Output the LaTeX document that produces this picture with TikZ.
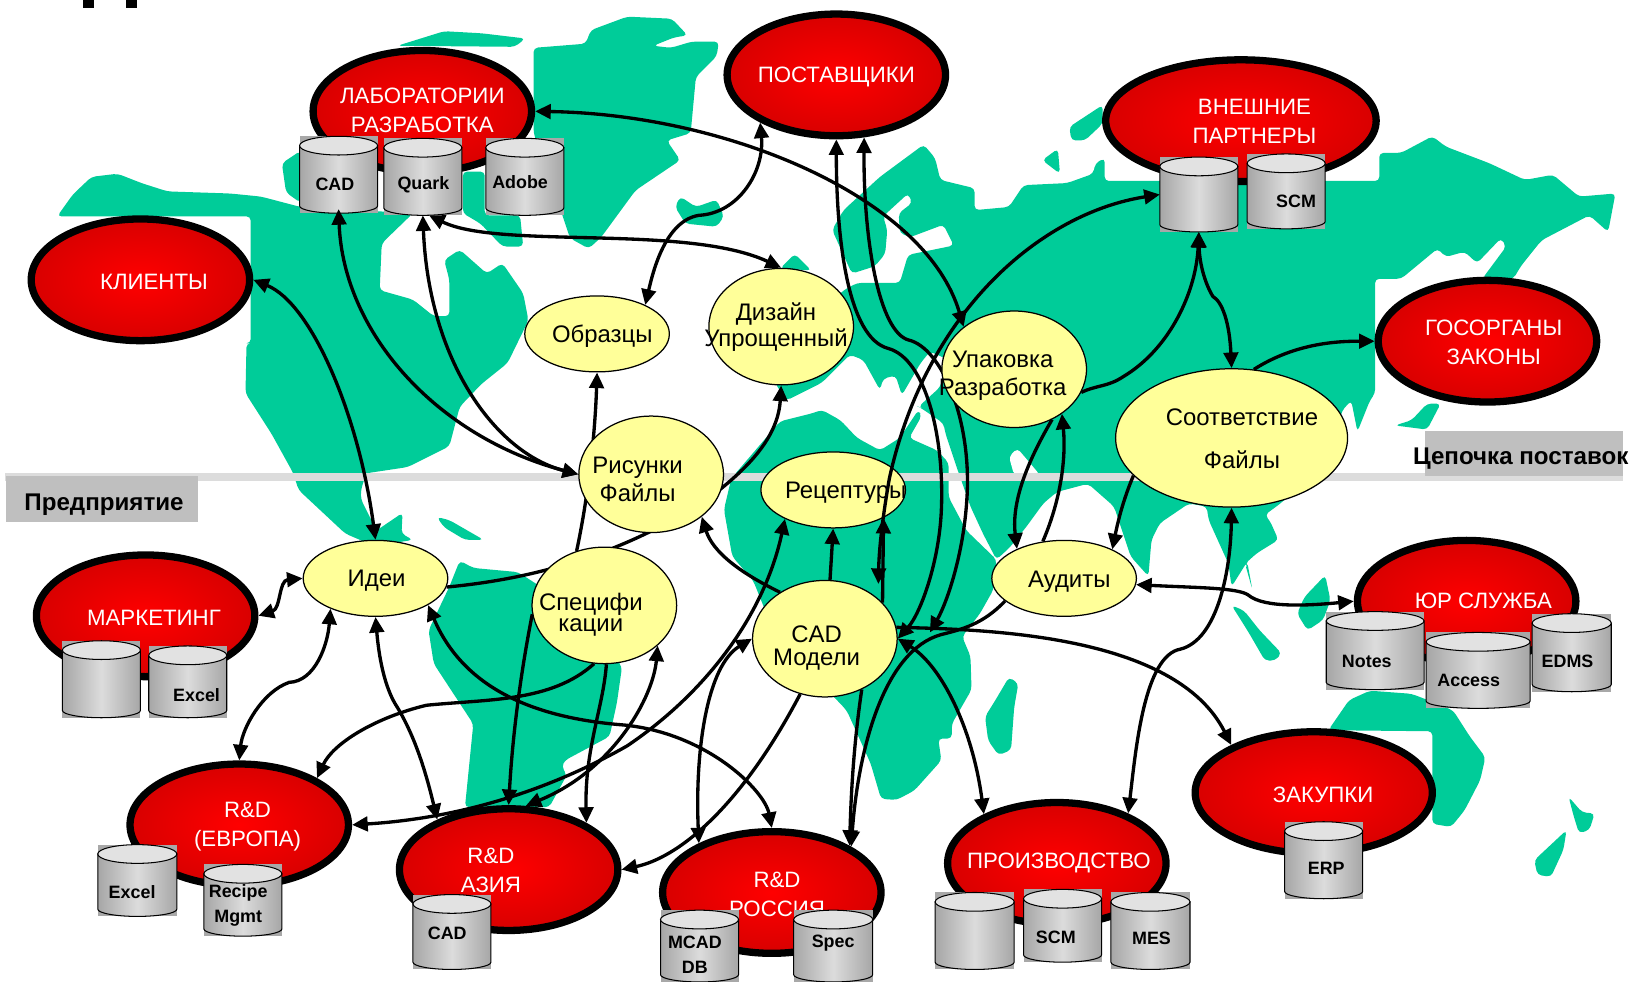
\documentclass[tikz,border=0pt]{standalone}
\usepackage{fontspec}
\setmainfont{Liberation Sans}
\usetikzlibrary{shapes.geometric,arrows.meta}
\definecolor{mapgreen}{HTML}{00CC99}
\definecolor{reddark}{HTML}{D80000}
\definecolor{yelfill}{HTML}{FFFF99}
\definecolor{boxgray}{HTML}{BFBFBF}
\definecolor{bandgray}{HTML}{DCDCDC}
\definecolor{dbback}{HTML}{A8A8A8}
\definecolor{dbedge}{HTML}{A6A6A6}
\definecolor{dbmid}{HTML}{DCDCDC}
\definecolor{dbtop}{HTML}{E2E2E2}
\pgfdeclarelayer{maplayer}
\pgfdeclarelayer{linklayer}
\pgfsetlayers{maplayer,linklayer,main}
\tikzset{
 redell/.style={ellipse, draw=black, line width=3.5pt, inner color=red, outer color=reddark, inner sep=0pt, minimum width=105pt, minimum height=58.5pt},
 yelell/.style={ellipse, draw=black, line width=.6pt, fill=yelfill, inner sep=0pt, minimum width=69.5pt, minimum height=56pt},
 redtext/.style={text=white, align=center, inner sep=0pt, font=\fontsize{10.7}{14}\selectfont},
 yeltext/.style={align=center, inner sep=0pt, font=\fontsize{11.5}{13.5}\selectfont},
 dbtext/.style={align=center, inner sep=0pt, font=\bfseries\fontsize{8.6}{12}\selectfont},
 boxtext/.style={inner sep=0pt, font=\bfseries\fontsize{11.6}{14}\selectfont},
 link/.style={line width=1.6pt, >={Triangle[length=7.5pt,width=7pt]}},
 land/.style={fill=mapgreen, rounded corners=2pt}
}
\newcommand{\dbcyl}[5]{
 \node[fill=dbback, inner sep=0pt, outer sep=0pt, minimum width=#4*.5pt, minimum height=#5*.5pt] (#1) at (#2,#3) {};
 \path[draw=black, line width=.5pt, left color=dbedge, right color=dbedge, middle color=dbmid]
  ([yshift=-4.5pt]#1.north west) -- ([yshift=3.5pt]#1.south west)
  arc[start angle=180, end angle=360, x radius=#4*.25pt, y radius=3.5pt]
  -- ([yshift=-4.5pt]#1.north east) -- cycle;
 \draw[line width=.5pt, fill=dbtop] ([yshift=-4.5pt]#1.north) ellipse[x radius=#4*.25pt, y radius=4.5pt];
}
\begin{document}
\begin{tikzpicture}[x=.5pt,y=-.5pt]
\useasboundingbox (0,0) rectangle (1568,944);
\begin{pgfonlayer}{maplayer}
 \fill[black] (80,0) rectangle (90,8);
 \fill[black] (121,0) rectangle (132,8);
 % map
 \path[land] (55,208) -- (70,187) -- (88,170) -- (113,167) -- (136,176) -- (161,184) -- (221,186) -- (251,189) -- (289,199) -- (397,205) -- (367,234) -- (365,279) -- (397,288) -- (417,304) -- (432,304) -- (432,269) -- (427,250) -- (442,240) -- (468,263) -- (483,253) -- (503,282) -- (508,308) -- (488,349) -- (463,369) -- (442,391) -- (432,429) -- (392,449) -- (352,455) -- (347,471) -- (347,480) -- (362,510) -- (387,493) -- (386,513) -- (397,519) -- (360,525) -- (332,513) -- (287,471) -- (282,455) -- (261,417) -- (236,378) -- (237,330) -- (241,330) -- (241,208) -- cycle;
 \path[land] (271,157) -- (289,145) -- (289,195) -- (275,185) -- cycle;
 \path[land] (382,44) -- (427,30) -- (463,32) -- (505,37) -- (495,45) -- cycle;
 \path[land] (445,165) -- (466,165) -- (466,207) -- (500,207) -- (503,237) -- (483,237) -- (462,215) -- (445,205) -- cycle;
 \path[land] (513,46) -- (563,42) -- (568,29) -- (603,16) -- (646,18) -- (661,34) -- (648,36) -- (628,44) -- (645,46) -- (665,40) -- (691,40) -- (689,54) -- (669,74) -- (664,128) -- (641,135) -- (654,154) -- (611,183) -- (578,228) -- (566,239) -- (548,229) -- (540,205) -- (513,128) -- cycle;
 \path[land] (649,199) -- (654,189) -- (669,199) -- (689,192) -- (696,208) -- (689,218) -- (659,215) -- cycle;
 \path[land] (750,258) -- (764,244) -- (780,260) -- cycle;
 \path[land] (800,221) -- (811,202) -- (846,170) -- (888,139) -- (899,152) -- (904,173) -- (937,181) -- (937,202) -- (970,199) -- (984,178) -- (1026,176) -- (1051,167) -- (1053,157) -- (1062,152) -- (1062,174) -- (1326,174) -- (1326,147) -- (1347,147) -- (1377,131) -- (1390,141) -- (1432,157) -- (1466,173) -- (1493,168) -- (1518,189) -- (1553,186) -- (1546,223) -- (1528,207) -- (1482,231) -- (1462,256) -- (1455,268) -- (1425,268) -- (1448,237) -- (1443,229) -- (1420,253) -- (1408,242) -- (1390,247) -- (1382,239) -- (1347,268) -- (1322,268) -- (1322,378) -- (1317,385) -- (1305,415) -- (1299,385) -- (1290,395) -- (1280,440) -- (1231,484) -- (1216,495) -- (1221,501) -- (1229,519) -- (1208,532) -- (1197,542) -- (1204,567) -- (1199,540) -- (1184,564) -- (1181,542) -- (1162,500) -- (1160,487) -- (1143,484) -- (1115,503) -- (1107,519) -- (1104,554) -- (1087,535) -- (1071,487) -- (1046,465) -- (1016,473) -- (1003,484) -- (987,506) -- (971,526) -- (958,538) -- (945,513) -- (933,487) -- (920,450) -- (909,417) -- (907,407) -- (885,392) -- (883,391) -- (904,372) -- (910,345) -- (894,338) -- (885,349) -- (867,380) -- (861,361) -- (849,364) -- (846,375) -- (830,346) -- (817,341) -- (790,368) -- (756,385) -- (745,368) -- (760,330) -- (811,279) -- (824,272) -- (865,272) -- (873,245) -- (917,236) -- (907,216) -- (875,228) -- (865,224) -- (864,205) -- (877,195) -- (873,186) -- (849,208) -- (853,221) -- (851,244) -- (841,256) -- (819,263) -- cycle;
 \fill[white, rounded corners=2pt] (970,439) -- (978,431) -- (990,445) -- (1000,457) -- (975,457) -- cycle;
 \path[land] (696,490) -- (703,460) -- (750,405) -- (782,397) -- (790,394) -- (808,404) -- (824,421) -- (846,433) -- (865,421) -- (883,394) -- (886,400) -- (874,421) -- (901,433) -- (912,445) -- (912,478) -- (929,510) -- (958,538) -- (955,567) -- (942,590) -- (925,612) -- (933,631) -- (934,663) -- (915,696) -- (915,710) -- (902,710) -- (905,731) -- (879,760) -- (862,769) -- (847,768) -- (837,734) -- (814,683) -- (745,610) -- (724,558) -- (704,535) -- cycle;
 \path[land] (442,539) -- (455,546) -- (498,550) -- (560,590) -- (598,641) -- (593,676) -- (586,708) -- (543,731) -- (540,737) -- (545,745) -- (528,776) -- (447,776) -- (455,696) -- (417,638) -- (412,606) -- (432,564) -- cycle;
 \path[land] (420,497) -- (432,500) -- (465,519) -- (447,519) -- (427,507) -- cycle;
 \path[land] (970,651) -- (979,657) -- (975,680) -- (972,721) -- (960,726) -- (950,712) -- (947,689) -- (957,673) -- cycle;
 \path[land] (1274,553) -- (1279,577) -- (1272,596) -- (1257,606) -- (1247,590) -- (1254,574) -- cycle;
 \path[land] (1184,582) -- (1196,587) -- (1211,606) -- (1232,628) -- (1226,635) -- (1216,635) -- (1201,609) -- (1191,593) -- cycle;
 \path[land] (1277,702) -- (1297,673) -- (1317,664) -- (1357,667) -- (1370,672) -- (1397,683) -- (1413,708) -- (1428,728) -- (1423,750) -- (1408,779) -- (1395,795) -- (1377,792) -- (1377,703) -- cycle;
 \path[land] (1508,766) -- (1521,781) -- (1533,782) -- (1528,798) -- (1518,801) -- (1513,785) -- cycle;
 \path[land] (1506,798) -- (1503,817) -- (1491,843) -- (1478,841) -- (1475,827) -- cycle;
 \path[land] (1002,154) -- (1017,143) -- (1019,167) -- cycle;
 \path[land] (1028,122) -- (1060,101) -- (1060,119) -- (1043,135) -- (1030,135) -- cycle;
 \path[land] (1372,388) -- (1385,388) -- (1372,413) -- (1341,409) -- (1357,404) -- cycle;
 \fill[bandgray] (5,455) rectangle (1560,462);
 \fill[boxgray] (6,458) rectangle (190,502);
 \fill[boxgray] (1370,414) rectangle (1560,458);
 % red nodes
 \node[redell] (lab) at (406,107) {};
 \node[redell] (post) at (804,72) {};
 \node[redell, minimum width=130pt] (vnesh) at (1193,116) {};
 \node[redell] (klient) at (135,269) {};
 \node[redell] (gos) at (1430,328) {};
 \node[redell] (mark) at (140,592) {};
 \node[redell] (yur) at (1410,578) {};
 \node[redell] (evro) at (230,793) {};
 \node[redell] (asia) at (489,836) {};
 \node[redell] (ross) at (742,858) {};
 \node[redell] (proizv) at (1016,830) {};
 \node[redell, minimum width=114pt] (zak) at (1263,762) {};
 \node[redtext] (labt) at (406,106) {ЛАБОРАТОРИИ\\РАЗРАБОТКА};
 \node[redtext] (postt) at (804,74) {ПОСТАВЩИКИ};
 \node[redtext] (vnesht) at (1206,117) {ВНЕШНИЕ\\ПАРТНЕРЫ};
 \node[redtext] (klientt) at (148,271) {КЛИЕНТЫ};
 \node[redtext] (gost) at (1436,329) {ГОСОРГАНЫ\\ЗАКОНЫ};
 \node[redtext] (markt) at (148,594) {МАРКЕТИНГ};
 \node[redtext] (yurt) at (1426,578) {ЮР СЛУЖБА};
 \node[redtext] (evrot) at (238,795) {R\&D\\(ЕВРОПА)};
 \node[redtext] (asiat) at (472,837) {R\&D\\АЗИЯ};
 \node[redtext] (rosst) at (747,860) {R\&D\\РОССИЯ};
 \node[redtext] (proizvt) at (1018,830) {ПРОИЗВОДСТВО};
 \node[redtext] (zakt) at (1272,764) {ЗАКУПКИ};
 \dbcyl{cad}{325.5}{168}{75}{74}
 \dbcyl{quark}{406.5}{170}{75}{74}
 \dbcyl{adobe}{504.5}{170}{75}{74}
 \dbcyl{vcyl}{1152.5}{187}{75}{72}
 \dbcyl{scmv}{1236.5}{184}{75}{72}
 \dbcyl{markcyl}{97.5}{653}{75}{74}
 \dbcyl{excelm}{180.5}{655.5}{75}{69}
 \dbcyl{notes}{1322}{625.5}{94}{75}
 \dbcyl{access}{1421}{644.5}{100}{73}
 \dbcyl{edms}{1511}{627.5}{76}{75}
 \dbcyl{excele}{132}{846.5}{76}{69}
 \dbcyl{recipe}{233.5}{865.5}{75}{69}
 \dbcyl{cada}{434.5}{896}{75}{72}
 \dbcyl{mcad}{672.5}{909.5}{75}{69}
 \dbcyl{specr}{801}{909.5}{76}{69}
 \dbcyl{pcyl}{937}{895}{76}{74}
 \dbcyl{scmp}{1021.5}{890}{75}{70}
 \dbcyl{mes}{1106}{895}{76}{74}
 \dbcyl{erp}{1272.5}{827}{75}{74}
\end{pgfonlayer}
 % yellow nodes
 \node[yelell, minimum height=36.5pt] (obr) at (574,321) {};
 \node[yelell] (diz) at (751,314) {};
 \node[yelell] (ris) at (626,456) {};
 \node[yelell, minimum height=36.5pt] (rec) at (801,471) {};
 \node[yelell] (upak) at (975,355) {};
 \node[yelell, minimum width=111.5pt, minimum height=66.5pt] (soot) at (1184,421) {};
 \node[yelell, minimum height=36.5pt] (idei) at (361,556) {};
 \node[yelell] (spec) at (581,582) {};
 \node[yelell] (cadm) at (793,614) {};
 \node[yelell, minimum height=36.5pt] (aud) at (1023,556) {};
 \coordinate (cadjoin) at (894,608);
\begin{pgfonlayer}{linklayer}
 \draw[link,<->] (klient.east) .. controls (300,292) and (345,400) .. (idei.north);
 \draw[link,<->] ([yshift=2pt]cad.south) .. controls (330,320) and (420,420) .. (ris.west);
 \draw[link,<->] (quark.south) .. controls (412,345) and (475,435) .. (ris.west);
 \draw[link,->] (spec.117) .. controls (565,480) and (572,420) .. (obr.south);
 \draw[link,->] (idei.-7) .. controls (530,555) and (610,525) .. (680,480) .. controls (720,450) and (748,420) .. (diz.south);
 \draw[link,->] (cadm.134) .. controls (710,550) and (685,530) .. (ris.-40);
 \draw[link,->] (cadm.85) -- (rec.south);
 \draw[link,->] (cadm.32) -- (rec.-29);
 \draw[link,<->] (post.south) .. controls (804,230) and (815,325) .. (854,335) .. controls (890,345) and (908,420) .. (905,490) .. controls (903,540) and (885,590) .. (cadm.east);
 \draw[link,<->] (post.-66) .. controls (830,230) and (845,320) .. (874,327) .. controls (905,335) and (932,400) .. (930,470) .. controls (928,530) and (910,580) .. (cadjoin);
 \draw[link,->] (spec.187) .. controls (498,660) and (492,720) .. (asia.north);
 \draw[link,->] (spec.-88) .. controls (580,680) and (562,720) .. (asia.31);
 \draw[link,<->] (spec.-37) .. controls (628,670) and (590,740) .. (asia.75);
 \draw[link,->] (spec.260) .. controls (530,675) and (470,672) .. (410,678) .. controls (360,690) and (320,715) .. (evro.31);
 \draw[link,<-] (asia.east) .. controls (650,825) and (710,780) .. (cadm.246);
 \draw[link,->] (cadm.-54) .. controls (820,720) and (818,770) .. (ross.31);
\end{pgfonlayer}
 \draw[link,<->] ([xshift=3pt]quark.south) .. controls (480,240) and (660,215) .. (diz.north);
 \draw[link,<->] (lab.east) .. controls (700,110) and (890,190) .. (upak.140);
 \draw[link,<->] (post.212) .. controls (735,165) and (710,205) .. (672,207) .. controls (640,212) and (628,260) .. (obr.31);
 \draw[link,<->,shorten >=7pt] (vcyl.west) .. controls (1000,205) and (890,300) .. (855,460) .. controls (848,500) and (845,530) .. (cadm.37);
 \draw[link,->] (cadm.9) .. controls (950,605) and (1130,610) .. (zak.150);
 \draw[link,<->] (cadm.east) .. controls (905,640) and (935,700) .. (proizv.146);
 \draw[link,->] (aud.201) .. controls (945,600) and (925,605) .. (905,610) .. controls (850,625) and (825,720) .. (ross.30);
 \draw[link,->] (upak.-53) .. controls (990,440) and (972,480) .. (aud.148);
 \draw[link,->] (aud.120) .. controls (1020,480) and (1025,440) .. (upak.-43);
 \draw[link,->] (upak.-19) .. controls (1055,370) and (1065,372) .. (1080,362) .. controls (1125,335) and (1150,280) .. (vcyl.south);
 \draw[link,<->] (soot.north) .. controls (1182,310) and (1175,290) .. (1166,285) .. controls (1157,270) and (1153,250) .. (vcyl.south);
 \draw[link,->] (soot.72) .. controls (1245,330) and (1285,328) .. (gos.west);
 \draw[link,->] (soot.201) .. controls (1080,480) and (1075,500) .. (aud.31);
 \draw[link,<->] (soot.south) .. controls (1183,550) and (1170,615) .. (1135,624) .. controls (1100,630) and (1092,720) .. (proizv.35);
 \draw[link,<->] (aud.-5) .. controls (1150,565) and (1190,565) .. (1200,572) .. controls (1215,585) and (1260,582) .. (yur.west);
 \draw[link,<->] (mark.east) .. controls (270,585) and (268,558) .. (idei.west);
 \draw[link,<->] (idei.214) .. controls (315,620) and (303,655) .. (278,656) .. controls (252,665) and (233,700) .. (evro.north);
 \draw[link,<->] (idei.south) .. controls (365,640) and (372,665) .. (382,680) .. controls (400,710) and (410,745) .. (asia.145);
 \draw[link,<->] (idei.-27) .. controls (445,660) and (510,690) .. (600,697) .. controls (680,705) and (735,760) .. (ross.north);
 \draw[link,<->] (evro.east) .. controls (420,788) and (510,770) .. (603,717) .. controls (680,665) and (735,590) .. (rec.211);
 \draw[link,<->] (ross.146) .. controls (668,720) and (680,640) .. (cadm.west);
 % texts
 \node[dbtext] (cadt) at (322,177) {CAD};
 \node[dbtext] (quarkt) at (407,178) {Quark};
 \node[dbtext] (adobet) at (500,175) {Adobe};
 \node[dbtext] (scmvt) at (1246,194) {SCM};
 \node[dbtext] (excelmt) at (189,668) {Excel};
 \node[dbtext] (notest) at (1314,636) {Notes};
 \node[dbtext] (accesst) at (1412,654) {Access};
 \node[dbtext] (edmst) at (1507,636) {EDMS};
 \node[dbtext] (excelet) at (127,858) {Excel};
 \node[dbtext] (recipet) at (229,870) {Recipe\\Mgmt};
 \node[dbtext] (cadat) at (430,897) {CAD};
 \node[dbtext] (mcadt) at (668,918) {MCAD\\DB};
 \node[dbtext] (specrt) at (801,907) {Spec};
 \node[dbtext] (scmpt) at (1015,901) {SCM};
 \node[dbtext] (mest) at (1107,902) {MES};
 \node[dbtext] (erpt) at (1275,835) {ERP};
 \node[boxtext] (predt) at (100,485) {Предприятие};
 \node[boxtext] (chaint) at (1462,441) {Цепочка поставок};
 \node[yeltext] (obrt) at (579,323) {Образцы};
 \node[yeltext] (dizt) at (746,314.5) {Дизайн\\[-1pt]Упрощенный};
 \node[yeltext] (rist) at (613,461) {Рисунки\\Файлы};
 \node[yeltext] (rect) at (813,474) {Рецептуры};
 \node[yeltext] (upakt) at (964,361.5) {Упаковка\\Разработка};
 \node[yeltext] (soott) at (1194,422) {Соответствие\\[7pt]Файлы};
 \node[yeltext] (ideit) at (362,558) {Идеи};
 \node[yeltext] (spect) at (568,591) {Специфи\\[-3pt]кации};
 \node[yeltext] (cadmt) at (785,623) {CAD\\[-2.5pt]Модели};
 \node[yeltext] (audt) at (1028,559) {Аудиты};
\end{tikzpicture}
\end{document}
